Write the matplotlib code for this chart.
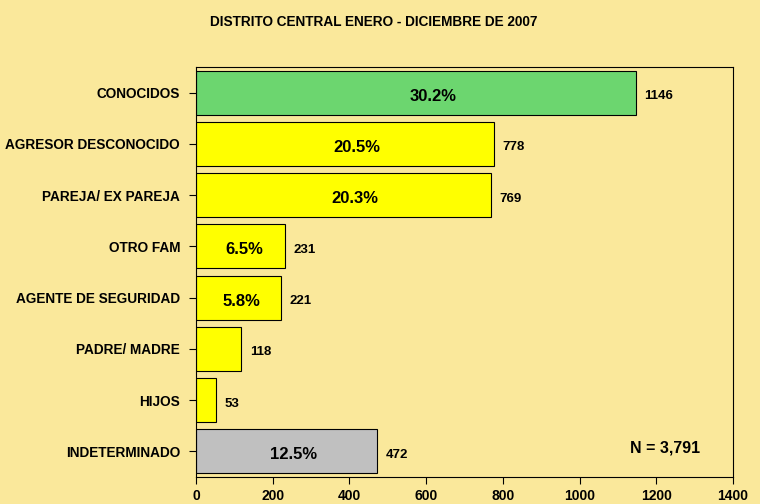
import matplotlib.pyplot as plt

# Datos del gráfico
categorias = ['CONOCIDOS', 'AGRESOR DESCONOCIDO', 'PAREJA/ EX PAREJA', 'OTRO FAM',
              'AGENTE DE SEGURIDAD', 'PADRE/ MADRE', 'HIJOS', 'INDETERMINADO']
valores = [1146, 778, 769, 231, 221, 118, 53, 472]
porcentajes = ['30.2%', '20.5%', '20.3%', '6.5%', '5.8%', '', '', '12.5%']
colores = ['#6CD66F', '#FFFF00', '#FFFF00', '#FFFF00', '#FFFF00', '#FFFF00', '#FFFF00', '#C0C0C0']
xticks = [0, 200, 400, 600, 800, 1000, 1200, 1400]

fondo = '#FAE89B'
plt.rcParams['font.family'] = ['Liberation Sans', 'DejaVu Sans']

fig = plt.figure(figsize=(7.6, 5.04), dpi=100, facecolor=fondo)
ax = fig.add_axes([0.258, 0.0536, 0.7065, 0.8134], facecolor=fondo)

pos = list(range(len(categorias)))
ax.barh(pos, valores, height=0.86, color=colores, edgecolor='black', linewidth=0.8)

for p, v, pct in zip(pos, valores, porcentajes):
    ax.annotate(str(v), (v, p), xytext=(6, -2.5), textcoords='offset points',
                ha='left', va='center', fontsize=9.5, fontweight='bold')
    if pct:
        ax.text(v * 0.54, p + 0.07, pct, ha='center', va='center',
                fontsize=12, fontweight='bold')

ax.set_xlim(0, 1400)
ax.set_ylim(7.5, -0.5)
ax.set_yticks(pos)
ax.set_yticklabels(categorias, fontsize=9.8, fontweight='bold')
ax.set_xticks(xticks)
ax.set_xticklabels([str(t) for t in xticks], fontsize=10, fontweight='bold')
ax.tick_params(axis='both', direction='out', length=5, width=0.8)
ax.tick_params(axis='y', pad=6.5)
ax.tick_params(axis='x', pad=3.5)
for s in ax.spines.values():
    s.set_linewidth(0.8)

ax.text(0.874, 0.07, 'N = 3,791', transform=ax.transAxes, ha='center', va='center',
        fontsize=11.5, fontweight='bold')

fig.text(0.492, 0.956, 'DISTRITO CENTRAL ENERO - DICIEMBRE DE 2007', ha='center',
         va='center', fontsize=9.8, fontweight='bold')

fig.savefig('out.png', dpi=100, facecolor=fondo)
